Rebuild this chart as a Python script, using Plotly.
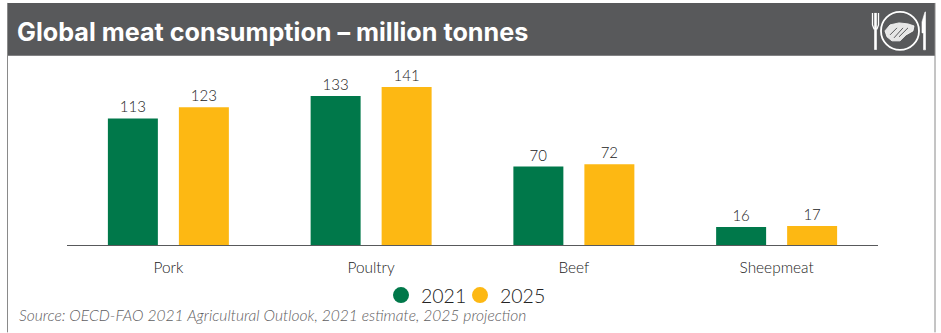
import plotly.graph_objects as go

categories = ["Pork", "Poultry", "Beef", "Sheepmeat"]
values_2021 = [113, 133, 70, 16]
values_2025 = [123, 141, 72, 17]

W, H = 941, 333
LEFT, RIGHT, BASE = 67, 878, 245.5
PX_PER_UNIT = 1.122
Y_MAX = 150
TOP = BASE - Y_MAX * PX_PER_UNIT

GREEN = "#00784a"
AMBER = "#fdb813"
HEADER = "#58595b"
INK = "#222222"
FONT = "Lato, 'Open Sans', sans-serif"
TITLE_FONT = "Inter, Lato, sans-serif"


def px(x):
    return (x - LEFT) / (RIGHT - LEFT)


def py(y):
    return (BASE - y) / (BASE - TOP)


def rect(x0, y0, x1, y1, **kw):
    return dict(type="rect", xref="paper", yref="paper", x0=px(x0), x1=px(x1),
                y0=py(y1), y1=py(y0), layer="below", **kw)


def pts(points, close=False):
    d = "M" + " L".join(f"{px(x):.5f},{py(y):.5f}" for x, y in points)
    return d + (" Z" if close else "")


def path(points, close=False, fill=None, width=1.5, color="white"):
    return dict(type="path", xref="paper", yref="paper", path=pts(points, close),
                fillcolor=fill if fill else "rgba(0,0,0,0)",
                line=dict(color=color, width=width))


def ellipse(cx, cy, rx, ry, fill=None, width=1.5):
    return dict(type="circle", xref="paper", yref="paper",
                x0=px(cx - rx), x1=px(cx + rx), y0=py(cy + ry), y1=py(cy - ry),
                fillcolor=fill if fill else "rgba(0,0,0,0)",
                line=dict(color="white", width=width))


def legend_box(x):
    # one key per box so the two entries can sit close together
    return dict(orientation="h", xref="paper", yref="paper", x=px(x), xanchor="left",
                y=py(296), yanchor="middle", font=dict(size=19.5, color=INK, weight=300),
                itemsizing="trace", itemwidth=30, bgcolor="rgba(0,0,0,0)")


shapes = [
    # panel frame and title band
    rect(7, 3, 935, 56, fillcolor=HEADER, line=dict(width=0)),
    dict(type="line", xref="paper", yref="paper", x0=px(7.5), x1=px(7.5), y0=py(333), y1=py(3),
         line=dict(color="#8a8a8a", width=1), layer="below"),
    dict(type="line", xref="paper", yref="paper", x0=px(935), x1=px(935), y0=py(333), y1=py(3),
         line=dict(color="#8a8a8a", width=1), layer="below"),
    # fork
    path([(872.5, 13), (872.5, 25), (874, 29), (877, 29), (878.5, 25), (878.5, 13)], width=1.3),
    path([(875.5, 13), (875.5, 50)], width=2.6),
    # plate
    ellipse(900, 31, 19, 19, width=1.8),
    # steak
    path([(885, 31), (890, 25), (899, 23), (908, 24), (914, 26), (913, 31), (906, 35),
          (900, 41), (892, 41), (887, 37)], close=True, fill="#e6e6e6", width=0.8),
    # grill marks
    path([(890, 35), (897, 28)], width=1, color=HEADER),
    path([(894, 38), (903, 28)], width=1, color=HEADER),
    path([(899, 37), (908, 28)], width=1, color=HEADER),
    # knife
    path([(925, 12), (922, 22), (922, 33), (923.5, 33), (923.5, 50), (925.5, 50), (925.5, 12)],
         close=True, fill="white", width=0.6),
]

fig = go.Figure()
series = (("2021", values_2021, GREEN, "legend"), ("2025", values_2025, AMBER, "legend2"))
for name, vals, color, legend_id in series:
    fig.add_bar(
        name=name, x=categories, y=vals, marker=dict(color=color, line=dict(width=0)),
        text=[str(v) for v in vals], textposition="outside", cliponaxis=False,
        textfont=dict(family=FONT, size=15, color=INK, weight=300),
        showlegend=False,
    )
    # round legend keys for the two series
    fig.add_scatter(name=name, x=[None], y=[None], mode="markers", legend=legend_id,
                    marker=dict(color=color, size=16, symbol="circle"))

fig.update_layout(
    width=W, height=H, autosize=False,
    margin=dict(l=LEFT, r=W - RIGHT, t=TOP, b=H - BASE, pad=0),
    paper_bgcolor="white", plot_bgcolor="white",
    barmode="group", bargap=0.2996, bargroupgap=0.296,
    font=dict(family=FONT, color=INK),
    shapes=shapes,
    legend=legend_box(381),
    legend2=legend_box(460),
    annotations=[
        dict(text="<b>Global meat consumption – million tonnes</b>", xref="paper", yref="paper",
             x=px(15), y=py(32), xanchor="left", yanchor="middle", showarrow=False,
             font=dict(family=TITLE_FONT, size=25.2, color="white")),
        dict(text="<i>Source: OECD-FAO 2021 Agricultural Outlook, 2021 estimate, 2025 projection</i>",
             xref="paper", yref="paper", x=px(16.5), y=py(316), xanchor="left", yanchor="middle",
             showarrow=False, font=dict(family=FONT, size=15.6, color="#5f6062", weight=300)),
    ],
)
fig.update_xaxes(showline=True, linecolor="#58595b", linewidth=1.2, ticks="",
                 tickfont=dict(family=FONT, size=15.4, color=INK, weight=300),
                 ticklabelstandoff=8)
fig.update_yaxes(range=[0, Y_MAX], visible=False, showgrid=False, zeroline=False)

fig.write_html("out.html", config=dict(displayModeBar=False))
